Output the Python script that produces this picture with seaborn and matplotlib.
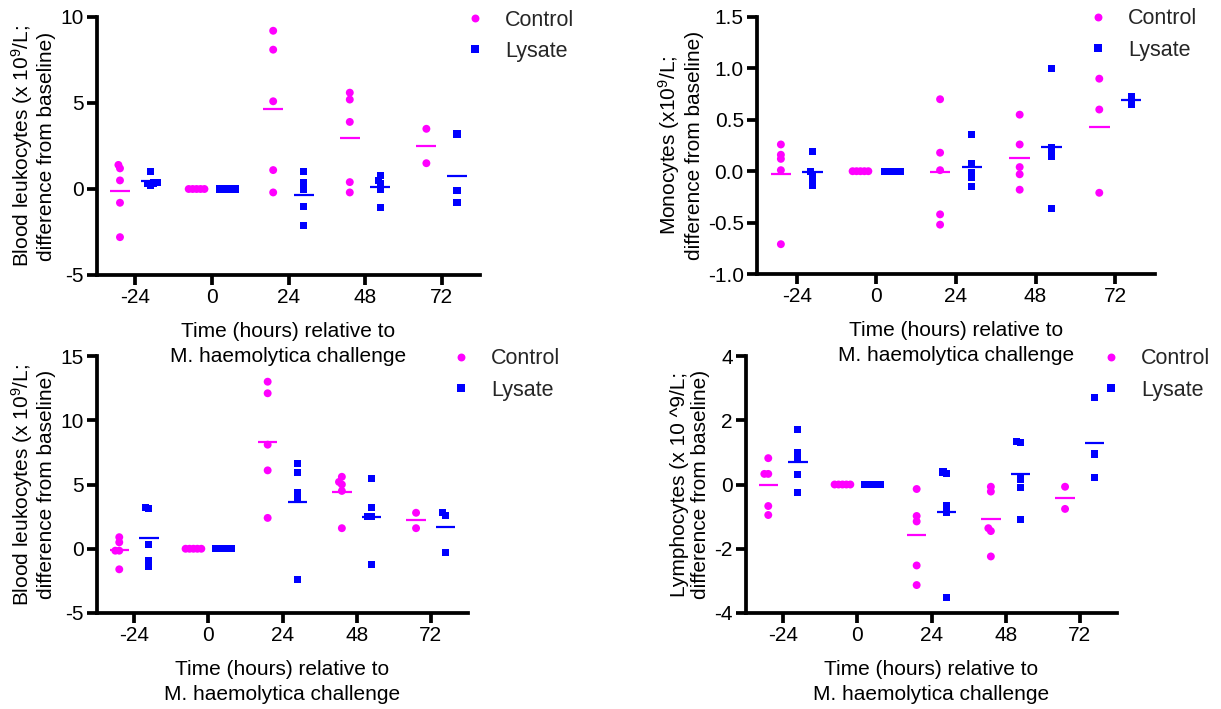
import numpy as np
import pandas as pd
import matplotlib
matplotlib.use("Agg")
import matplotlib.pyplot as plt
from matplotlib.lines import Line2D
import seaborn as sns

# ---- data: change from baseline, one list per time point -------------------
times = ["-24", "0", "24", "48", "72"]
groups = ["Control", "Lysate"]

leuko_a_control = [[1.4, 1.2, 0.5, -0.8, -2.8], [0, 0, 0, 0, 0],
                   [9.2, 8.1, 5.1, 1.1, -0.2], [5.6, 5.2, 3.9, 0.4, -0.2],
                   [3.5, 1.5]]
leuko_a_lysate = [[1.0, 0.4, 0.35, 0.3, 0.2], [0, 0, 0, 0, 0],
                  [1.0, 0.4, 0.0, -1.0, -2.1], [0.8, 0.5, 0.3, -0.05, -1.1],
                  [3.2, -0.1, -0.8]]

mono_control = [[0.26, 0.16, 0.12, 0.01, -0.71], [0, 0, 0, 0, 0],
                [0.70, 0.18, 0.01, -0.42, -0.52], [0.55, 0.26, 0.04, -0.03, -0.18],
                [0.90, 0.60, -0.21]]
mono_lysate = [[0.19, 0.0, -0.03, -0.08, -0.14], [0, 0, 0, 0, 0],
               [0.36, 0.07, -0.01, -0.06, -0.15], [1.0, 0.23, 0.19, 0.14, -0.36],
               [0.73, 0.65]]

leuko_b_control = [[0.9, 0.5, -0.15, -0.15, -1.6], [0, 0, 0, 0, 0],
                   [13.0, 12.1, 8.1, 6.1, 2.4], [5.6, 5.2, 5.0, 4.5, 1.6],
                   [2.8, 1.6]]
leuko_b_lysate = [[3.2, 3.1, 0.3, -0.9, -1.4], [0, 0, 0, 0, 0],
                  [6.6, 5.9, 4.4, 3.8, -2.4], [5.5, 3.2, 2.5, 2.5, -1.2],
                  [2.8, 2.6, -0.3]]

lympho_control = [[0.82, 0.33, 0.33, -0.67, -0.95], [0, 0, 0, 0, 0],
                  [-0.14, -0.98, -1.15, -2.52, -3.13], [-0.07, -0.22, -1.36, -1.45, -2.24],
                  [-0.07, -0.76]]
lympho_lysate = [[1.71, 0.99, 0.81, 0.31, -0.26], [0, 0, 0, 0, 0],
                 [0.39, 0.33, -0.64, -0.86, -3.52], [1.35, 1.31, 0.17, -0.10, -1.10],
                 [2.72, 0.95, 0.22]]

# y-axis ticks / labels per panel
leuko_a_yticks = [-5, 0, 5, 10]
leuko_a_yticklabels = ["-5", "0", "5", "10"]
mono_yticks = [-1.0, -0.5, 0.0, 0.5, 1.0, 1.5]
mono_yticklabels = ["-1.0", "-0.5", "0.0", "0.5", "1.0", "1.5"]
leuko_b_yticks = [-5, 0, 5, 10, 15]
leuko_b_yticklabels = ["-5", "0", "5", "10", "15"]
lympho_yticks = [-4, -2, 0, 2, 4]
lympho_yticklabels = ["-4", "-2", "0", "2", "4"]

xlabel = "Time (hours) relative to\nM. haemolytica challenge"

# ---- style ------------------------------------------------------------------
sns.set_theme(style="ticks")
plt.rcParams["font.family"] = ["Liberation Sans", "DejaVu Sans"]
plt.rcParams["mathtext.fontset"] = "custom"
plt.rcParams["mathtext.rm"] = "Liberation Sans"
plt.rcParams["mathtext.it"] = "Liberation Sans:italic"
plt.rcParams["mathtext.bf"] = "Liberation Sans:bold"
plt.rcParams["axes.unicode_minus"] = False

palette = {"Control": "#FF00FF", "Lysate": "#0000FF"}
markers = {"Control": "o", "Lysate": "s"}
marker_size = {"Control": 5.7, "Lysate": 5.1}   # drawn size (pt)
pack_size = 2.7                                   # spacing used for the swarm layout (pt)
dodge_offset = {"Control": -0.2, "Lysate": 0.2}

W, H = 1221, 709
fig = plt.figure(figsize=(W / 100, H / 100), dpi=100)


def long_frame(control, lysate):
    rows = []
    for grp, series in (("Control", control), ("Lysate", lysate)):
        for t, vals in zip(times, series):
            for v in vals:
                rows.append({"time": t, "group": grp, "value": v})
    return pd.DataFrame(rows)


panels = [
    dict(control=leuko_a_control, lysate=leuko_a_lysate, ylim=(-5, 10),
         yticks=leuko_a_yticks, yticklabels=leuko_a_yticklabels,
         ylabel="Blood leukocytes (x 10$^9$/L;\ndifference from baseline)",
         box=(97, 17, 480, 275), legend_at=(475, 18)),
    dict(control=mono_control, lysate=mono_lysate, ylim=(-1.0, 1.5),
         yticks=mono_yticks, yticklabels=mono_yticklabels,
         ylabel="Monocytes (x10$^9$/L;\ndifference from baseline)",
         box=(757, 17, 1155, 274), legend_at=(1098, 17)),
    dict(control=leuko_b_control, lysate=leuko_b_lysate, ylim=(-5, 15),
         yticks=leuko_b_yticks, yticklabels=leuko_b_yticklabels,
         ylabel="Blood leukocytes (x 10$^9$/L;\ndifference from baseline)",
         box=(97, 356, 468, 613), legend_at=(461, 357)),
    dict(control=lympho_control, lysate=lympho_lysate, ylim=(-4, 4),
         yticks=lympho_yticks, yticklabels=lympho_yticklabels,
         ylabel="Lymphocytes (x 10 ^9/L;\ndifference from baseline)",
         box=(746, 356, 1117, 613), legend_at=(1111, 357)),
]

legend_fs = 15.5
legend_px = legend_fs * 100 / 72
swarms = []

for p in panels:
    x0, y0, x1, y1 = p["box"]
    ax = fig.add_axes([x0 / W, 1 - y1 / H, (x1 - x0) / W, (y1 - y0) / H])
    ax.set_facecolor("none")
    df = long_frame(p["control"], p["lysate"])

    # mean bars behind the points
    means = df.groupby(["group", "time"], sort=False)["value"].mean()
    for grp in groups:
        for i, t in enumerate(times):
            m = means.loc[(grp, t)]
            xc = i + dodge_offset[grp]
            ax.hlines(m, xc - 0.13, xc + 0.13, color=palette[grp], lw=1.6, zorder=2)

    for grp in groups:
        n_before = len(ax.collections)
        sns.swarmplot(data=df[df["group"] == grp], x="time", y="value",
                      hue="group", hue_order=groups, order=times,
                      palette=palette, dodge=True, marker=markers[grp],
                      size=pack_size, linewidth=0, legend=False, ax=ax, zorder=3)
        for coll in ax.collections[n_before:]:
            swarms.append((coll, marker_size[grp]))

    ax.set_xlim(-0.5, 4.5)
    ax.set_ylim(*p["ylim"])
    ax.set_yticks(p["yticks"], p["yticklabels"])
    ax.set_xticks(range(len(times)), times)
    sns.despine(ax=ax)
    for side in ("left", "bottom"):
        ax.spines[side].set_linewidth(2.7)
        ax.spines[side].set_color("black")
    ax.tick_params(axis="both", direction="out", length=7.5, width=2.7,
                   color="black", labelsize=15, labelcolor="black", pad=2)
    ax.set_xlabel(xlabel, fontsize=15, labelpad=11, linespacing=1.4, color="black")
    ax.set_ylabel(p["ylabel"], fontsize=15, labelpad=3, linespacing=1.15, color="black")

    handles = [Line2D([], [], linestyle="none", marker=markers[g], color=palette[g],
                      markersize=marker_size[g], markeredgewidth=0) for g in groups]
    mx, my = p["legend_at"]
    lx = mx - 0.5 * legend_px
    ly = my - 8.5
    ax.legend(handles, groups, loc="upper left",
              bbox_to_anchor=(lx / W, 1 - ly / H), bbox_transform=fig.transFigure,
              frameon=False, fontsize=legend_fs, handlelength=1.0,
              handletextpad=0.89, labelspacing=0.47, borderpad=0,
              borderaxespad=0)

# lay the swarms out once with the tight spacing, then freeze them and
# draw the markers at full size (overlapping, packed columns)
fig.canvas.draw()
for coll, sz in swarms:
    if "draw" in coll.__dict__:
        del coll.draw
    coll.set_sizes([sz ** 2])

fig.savefig("out.png", dpi=100)
